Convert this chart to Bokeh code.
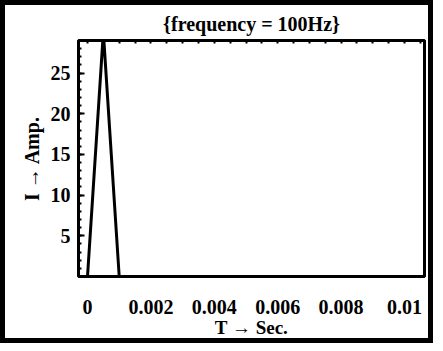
from bokeh.plotting import figure
from bokeh.models import Range1d, FixedTicker, LinearAxis, Title
from bokeh.embed import file_html
from bokeh.resources import INLINE

# data
t_sec = [0.0, 0.0005, 0.001]
i_amp = [0.0, 30.0, 0.0]
x_ticks = [0, 0.002, 0.004, 0.006, 0.008, 0.01]
x_tick_labels = ["0", "0.002", "0.004", "0.006", "0.008", "0.01"]
x_minor = [k * 0.0005 for k in range(0, 22)]
y_ticks = [5, 10, 15, 20, 25]
y_minor = list(range(0, 30))
title_text = "{frequency = 100Hz}"
x_label = "T \u2192 Sec."
y_label = "I \u2192 Amp."

FONT = "Liberation Serif"

p = figure(width=433, height=343, output_backend="svg", toolbar_location=None,
           x_range=Range1d(-0.000284, 0.01063), y_range=Range1d(0, 29),
           x_axis_location=None, y_axis_location=None,
           min_border_left=73, min_border_right=14, min_border_top=35, min_border_bottom=72)
p.styles = {"border": "5px solid black"}
p.background_fill_color = "white"
p.border_fill_color = "white"
p.grid.visible = False
p.outline_line_color = "black"
p.outline_line_width = 3

# bottom axis: labels only
xa = LinearAxis(ticker=FixedTicker(ticks=x_ticks),
                major_label_overrides={v: s for v, s in zip(x_ticks, x_tick_labels)})
xa.axis_line_color = None
xa.major_tick_line_color = None
xa.minor_tick_line_color = None
xa.major_tick_out = 0
xa.major_tick_in = 0
xa.major_label_standoff = 23
xa.major_label_text_font = FONT
xa.major_label_text_font_style = "bold"
xa.major_label_text_font_size = "20px"
xa.major_label_text_color = "black"
xa.axis_label = x_label
xa.axis_label_text_font = FONT
xa.axis_label_text_font_style = "bold"
xa.axis_label_text_font_size = "19px"
xa.axis_label_standoff = 0
xa.axis_label_text_color = "black"
p.add_layout(xa, "below")

# left axis
ya = LinearAxis(ticker=FixedTicker(ticks=y_ticks, minor_ticks=y_minor))
ya.axis_line_color = None
ya.major_tick_in = 6
ya.major_tick_out = 0
ya.minor_tick_in = 3
ya.minor_tick_out = 0
ya.major_tick_line_width = 2
ya.minor_tick_line_width = 2
ya.major_label_standoff = 8
ya.major_label_text_font = FONT
ya.major_label_text_font_style = "bold"
ya.major_label_text_font_size = "20px"
ya.major_label_text_color = "black"
ya.major_label_orientation = "horizontal"
ya.axis_label = y_label
ya.axis_label_text_font = FONT
ya.axis_label_text_font_style = "bold"
ya.axis_label_text_font_size = "20px"
ya.axis_label_standoff = 5
ya.axis_label_text_color = "black"
p.add_layout(ya, "left")

# top axis: ticks only
ta = LinearAxis(ticker=FixedTicker(ticks=x_minor),
                major_label_overrides={v: "" for v in x_minor})
ta.axis_line_color = None
ta.major_tick_in = 3
ta.major_tick_out = 0
ta.major_tick_line_width = 2
ta.minor_tick_line_color = None
ta.major_label_standoff = 0
p.add_layout(ta, "above")

p.line(t_sec, i_amp, line_color="black", line_width=3)

p.add_layout(Title(text=title_text, align="center", vertical_align="top", text_font=FONT,
                   text_font_style="bold", text_font_size="20px", text_color="black",
                   standoff=8), "above")

open("out.html", "w").write(file_html(p, INLINE))
